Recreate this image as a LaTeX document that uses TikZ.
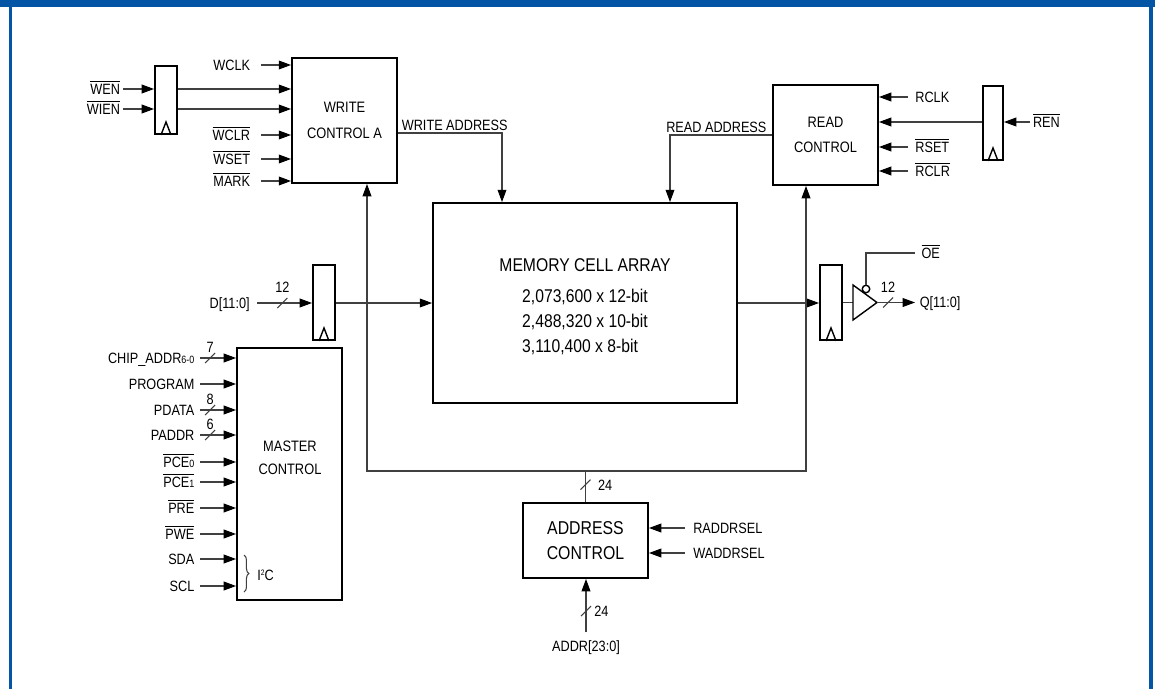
\documentclass[tikz,border=0pt]{standalone}
\usepackage{fontspec}
\setmainfont{Liberation Sans}[FakeStretch=0.85]
\usepackage{tikz}
\usetikzlibrary{arrows.meta,positioning,decorations.pathreplacing}
\definecolor{FrameBlue}{HTML}{0555A6}
\definecolor{WireGray}{HTML}{404040}
\newcommand{\ovl}[1]{$\overline{\mbox{#1}}$}
\newcommand{\sml}[1]{{\fontsize{6}{6}\selectfont #1}}
\newcommand{\clk}[1]{\draw[line width=.8pt] (#1.south) +(-5,0) -- +(0,-13) -- +(5,0);}
\newcommand{\buswd}[3]{%
  \draw[wire] (#1) +(-5,5) -- +(5,-5);
  \node[lbl,#3] at (#1) {#2};}

\begin{document}
\begin{tikzpicture}[x=0.02cm,y=-0.02cm,
  every node/.style={font=\fontsize{8.5}{10}\selectfont},
  lbl/.style={inner xsep=2pt,inner ysep=0pt,text height=6.1pt,text depth=0pt},
  blk/.style={draw,line width=1.1pt,inner sep=0pt,align=center},
  reg/.style={blk,minimum width=0.44cm,minimum height=1.5cm},
  wire/.style={line width=.6pt,color=WireGray},
  arr/.style={wire,-{Triangle[length=7pt,width=5pt,color=black]}},
  dbl/.style={wire,{Triangle[length=7pt,width=5pt,color=black]}-{Triangle[length=7pt,width=5pt,color=black]}}]
% frame
\fill[white] (0,0) rectangle (1155,689);
\fill[FrameBlue] (0,0) rectangle (1155,7);
\fill[FrameBlue] (8.5,7) rectangle (12,689);
\fill[FrameBlue] (1149,7) rectangle (1152.5,689);
\useasboundingbox (0,0) rectangle (1155,689);

% blocks
\node[blk,minimum width=2.1cm,minimum height=2.5cm,font=\fontsize{8.6}{15}\selectfont] (wca) at (344.5,120.5) {WRITE\\CONTROL A};
\node[blk,minimum width=2.1cm,minimum height=2cm,font=\fontsize{8.6}{14.2}\selectfont] (rdc) at (825.5,135) {READ\\CONTROL};
\node[blk,minimum width=6.08cm,minimum height=4cm] (mem) at (585,303) {};
\node[font=\fontsize{10.5}{12}\selectfont] (memttl) at (585,265) {MEMORY CELL ARRAY};
\node[font=\fontsize{10.5}{14.5}\selectfont,align=left] (memsz) at (585,322)
  {2,073,600 x 12-bit\\2,488,320 x 10-bit\\3,110,400 x 8-bit};
\node[blk,minimum width=2.1cm,minimum height=5.04cm] (mst) at (289.5,474) {};
\node[font=\fontsize{8.6}{13}\selectfont,align=center] (msttxt) at (290,457.5) {MASTER\\CONTROL};
\node[blk,minimum width=2.5cm,minimum height=1.5cm,font=\fontsize{10.6}{14.2}\selectfont] (adc) at (585.5,540.5) {ADDRESS\\CONTROL};

% registers
\node[reg,minimum height=1.36cm] (regw) at (166,100) {};
\node[reg] (regd) at (324,302.5) {};
\node[reg] (regq) at (831,302.5) {};
\node[reg,minimum width=.4cm,minimum height=1.48cm] (regr) at (993,123) {};
\foreach \r in {regw,regd,regq,regr} \clk{\r};

% write side
\node[lbl,anchor=east,inner xsep=1.5pt] (wen) at (123,89) {\ovl{WEN}};
\node[lbl,anchor=east,inner xsep=1.5pt] (wien) at (123,109) {\ovl{WIEN}};
\draw[arr] (wen) -- (wen -| regw.west);
\draw[arr] (wien) -- (wien -| regw.west);
\draw[arr] (regw.east |- wen) -- (wen -| wca.west);
\draw[arr] (regw.east |- wien) -- (wien -| wca.west);
\foreach \nm/\yy/\txt in {wclk/65/WCLK, wclr/135/{\ovl{WCLR}}, wset/159/{\ovl{WSET}}, mark/181/{\ovl{MARK}}}
{
  \node[lbl,anchor=east,inner xsep=6pt] (\nm) at (261,\yy) {\txt};
  \draw[arr] (\nm) -- (\nm -| wca.west);
}
\coordinate (wadr) at (502,133);
\draw[arr] (wca.east |- wadr) -- (wadr) -- (wadr |- mem.north);
\node[lbl,anchor=south west,inner ysep=1.5pt] (wadrtxt) at (wca.east |- wadr) {WRITE ADDRESS};

% read side
\coordinate (radr) at (670,135);
\draw[arr] (rdc.west |- radr) -- (radr) -- (radr |- mem.north);
\node[lbl,anchor=south east,inner ysep=1.5pt,inner xsep=3pt] (radrtxt) at (rdc.west |- radr) {READ ADDRESS};
\foreach \nm/\yy/\txt in {rclk/97/RCLK, rset/147/{\ovl{RSET}}, rclr/171/{\ovl{RCLR}}}
{
  \node[lbl,anchor=west,inner xsep=4pt] (\nm) at (908,\yy) {\txt};
  \draw[arr] (\nm) -- (\nm -| rdc.east);
}
\node[lbl,anchor=west,inner xsep=1.5pt] (ren) at (1030,122) {\ovl{REN}};
\draw[arr] (ren) -- (ren -| regr.east);
\draw[arr] (regr.west |- ren) -- (ren -| rdc.east);

% data in / out
\node[lbl,anchor=east,inner xsep=4pt] (din) at (257,303) {D[11:0]};
\draw[arr] (din) -- coordinate[pos=.46] (dsl) (din -| regd.west);
\buswd{dsl}{12}{above=6pt}
\draw[arr] (regd.east |- din) -- (din -| mem.west);
\draw[arr] (mem.east) -- (mem.east -| regq.west);
\coordinate (bufl) at (853,302.5);
\coordinate (bufr) at (877,302.5);
\draw[wire] (regq.east) -- (bufl);
\draw[line width=.8pt] (bufl |- 0,285) -- (bufr) -- (bufl |- 0,320) -- cycle;
\node[circle,draw,line width=.8pt,fill=white,inner sep=0pt,minimum size=0.15cm] (bub) at (866,289) {};
\node[lbl,anchor=west,inner xsep=3.5pt] (oe) at (915,253) {\ovl{OE}};
\draw[wire] (bub.north) |- (oe);
\node[lbl,anchor=west,inner xsep=2.5pt] (qout) at (915,302.5) {Q[11:0]};
\draw[arr] (bufr) -- coordinate[pos=.29] (qsl) (qout);
\buswd{qsl}{12}{above=5.5pt}

% master control inputs
\foreach \nm/\yy/\txt in {chip/358/{CHIP\_ADDR\sml{6-0}}, prog/384/PROGRAM, pdata/410/PDATA,
  paddr/435/PADDR, pcez/462/{\ovl{PCE\sml{0}}}, pceo/482/{\ovl{PCE\sml{1}}},
  pre/508/{\ovl{PRE}}, pwe/534/{\ovl{PWE}}, sda/559/SDA, scl/586/SCL}
{
  \node[lbl,anchor=east,inner xsep=3pt] (\nm) at (200,\yy) {\txt};
  \draw[arr] (\nm) -- (\nm -| mst.west);
}
\foreach \nm/\w in {chip/7, pdata/8, paddr/6}
{
  \path (\nm) -- coordinate[pos=.28] (\nm-s) (\nm -| mst.west);
  \buswd{\nm-s}{\w}{above=2.8pt}
}
\draw[wire,decorate,decoration={brace,amplitude=2.8pt}] (244,555) -- (244,592);
\node[lbl,anchor=west,inner xsep=0pt] (iic) at (257,575) {I\raisebox{2.8pt}{\fontsize{4.5}{4.5}\selectfont 2}C};

% address bus
\coordinate (wbus) at (367,471);
\coordinate (rbus) at (806,471);
\draw[dbl] (wca.south -| wbus) -- (wbus) -- (rbus) -- (rdc.south -| rbus);
\draw[wire] (adc.north) -- coordinate[pos=.56] (bsl) (adc.north |- wbus);
\buswd{bsl}{24}{right=5pt}
\foreach \nm/\yy/\txt in {rsel/528/RADDRSEL, wsel/553/WADDRSEL}
{
  \node[lbl,anchor=west,inner xsep=4.5pt] (\nm) at (685,\yy) {\txt};
  \draw[arr] (\nm) -- (\nm -| adc.east);
}
\node[lbl,inner ysep=4.5pt] (addr) at (586,646) {ADDR[23:0]};
\draw[arr] (addr) -- coordinate[pos=.4] (asl) (addr |- adc.south);
\buswd{asl}{24}{right=2.5pt}
\end{tikzpicture}
\end{document}
